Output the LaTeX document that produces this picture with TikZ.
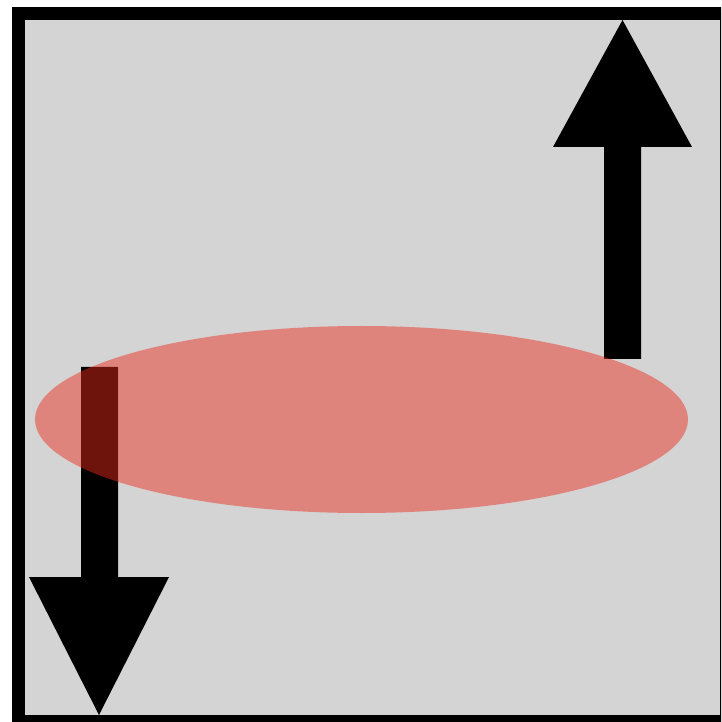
\documentclass[tikz,border=0pt]{standalone}
\usepackage{tikz}

\definecolor{panelgray}{RGB}{212,212,212}
\definecolor{blobred}{RGB}{236,44,26}

\begin{document}
\begin{tikzpicture}[x=0.01cm,y=-0.01cm]
\tikzstyle{arrowshape}=[fill=black,draw=none]
\useasboundingbox (0,0) rectangle (721,722);
\clip (0,0) rectangle (721,722);
\fill [panelgray] (18.5,13.5) rectangle (726.5,721.5);
% down arrow (left)
\fill [arrowshape] (81,367) -- (118,367) -- (118,577) -- (169,577) -- (99,715) -- (29,577) -- (81,577) -- cycle;
% up arrow (right)
\fill [arrowshape] (604,359) -- (641,359) -- (641,147) -- (692,147) -- (622.5,20) -- (553,147) -- (604,147) -- cycle;
% ellipse
\fill [blobred, fill opacity=0.47] (361.5,419.5) ellipse [x radius=326.5, y radius=93.5];
% frame
\draw [black, line width=0.13cm] (18.5,13.5) rectangle (726.5,721.5);
\end{tikzpicture}
\end{document}
